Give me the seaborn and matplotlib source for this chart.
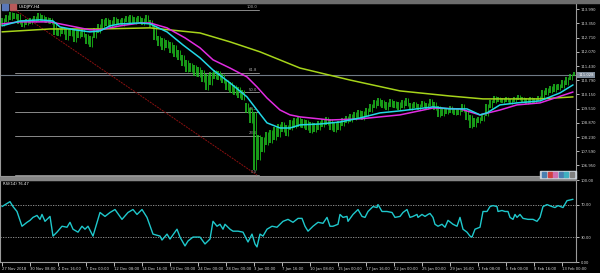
import numpy as np
import pandas as pd
import matplotlib
matplotlib.use("Agg")
import matplotlib.pyplot as plt
import seaborn as sns
from matplotlib.patches import Rectangle

# ---------------- data ----------------
symbol_title = "USDJPY,H4"

# H4 candles, sampled every 2nd bar: high / low prices
candle_high = [113.60, 113.73, 113.87, 113.82, 113.78, 113.51, 113.55, 113.60, 113.69, 113.82,
               113.73, 113.64, 113.60, 113.42, 113.15, 113.19, 113.10, 113.15, 113.06, 113.01,
               113.10, 112.88, 112.79, 113.15, 113.33, 113.55, 113.60, 113.51, 113.64, 113.55,
               113.60, 113.69, 113.73, 113.64, 113.69, 113.60, 113.73, 113.51, 113.24, 112.79,
               112.70, 112.61, 112.52, 112.38, 112.16, 111.93, 111.71, 111.57, 111.48, 111.39,
               111.25, 111.07, 111.16, 111.25, 111.21, 111.07, 110.80, 110.71, 110.58, 110.49,
               110.35, 109.77, 109.54, 109.36, 108.33, 108.23, 108.46, 108.55, 108.69, 108.82,
               108.91, 108.78, 109.00, 109.09, 109.14, 109.05, 109.00, 108.91, 108.87, 108.96,
               109.05, 109.14, 109.05, 108.91, 108.96, 109.09, 109.18, 109.27, 109.36, 109.45,
               109.41, 109.54, 109.72, 109.90, 109.99, 109.90, 109.81, 109.95, 109.86, 109.81,
               109.90, 109.99, 109.77, 109.81, 109.72, 109.86, 109.77, 109.95, 109.81, 109.63,
               109.54, 109.54, 109.63, 109.54, 109.50, 109.72, 109.45, 109.23, 109.09, 109.14,
               109.23, 109.72, 109.90, 110.08, 110.04, 109.99, 110.04, 109.95, 110.04, 110.13,
               110.04, 109.99, 110.04, 109.99, 110.08, 110.35, 110.44, 110.53, 110.62, 110.62,
               110.80, 110.94, 111.07, 111.16]
candle_low = [113.24, 113.42, 113.51, 113.55, 113.33, 113.19, 113.28, 113.33, 113.42, 113.46,
              113.42, 113.37, 113.33, 112.83, 112.79, 112.88, 112.61, 112.79, 112.52, 112.70,
              112.74, 112.43, 112.29, 112.70, 112.92, 113.15, 113.24, 113.19, 113.28, 113.33,
              113.24, 113.42, 113.37, 113.33, 113.42, 113.28, 113.42, 113.19, 112.61, 112.34,
              112.16, 112.25, 112.02, 111.84, 111.71, 111.43, 111.16, 111.16, 110.98, 110.94,
              110.71, 110.35, 110.58, 110.85, 110.80, 110.67, 110.35, 110.22, 110.13, 109.99,
              109.90, 109.32, 108.87, 106.75, 107.20, 107.56, 107.87, 107.96, 108.10, 108.23,
              108.46, 108.28, 108.55, 108.64, 108.69, 108.64, 108.55, 108.42, 108.46, 108.55,
              108.69, 108.78, 108.55, 108.46, 108.55, 108.73, 108.87, 108.91, 109.00, 109.09,
              109.00, 109.18, 109.36, 109.54, 109.63, 109.54, 109.45, 109.59, 109.54, 109.45,
              109.54, 109.63, 109.45, 109.54, 109.45, 109.59, 109.50, 109.63, 109.45, 109.14,
              109.18, 109.27, 109.32, 109.23, 109.23, 109.36, 109.00, 108.64, 108.69, 108.87,
              108.96, 109.18, 109.54, 109.77, 109.81, 109.77, 109.81, 109.72, 109.81, 109.90,
              109.81, 109.72, 109.77, 109.77, 109.86, 109.99, 110.13, 110.22, 110.26, 110.35,
              110.44, 110.58, 110.80, 110.98]

# moving averages (bar index, price)
ma_fast_bar = [0, 9, 19, 25.5, 29, 36.5, 44, 49, 54, 59, 69, 74, 82.5, 90.5, 99, 105.5, 114, 122.5,
               127.5, 132.5, 139, 144, 149, 159, 169, 179, 189, 199, 215.5, 224, 232.5, 239, 242.5,
               249, 257.5, 269, 279, 285.5]
ma_fast = [113.24, 113.46, 113.51, 113.46, 113.19, 113.06, 112.97, 113.01, 113.24, 113.33, 113.37,
           113.33, 112.97, 112.38, 111.80, 111.25, 110.67, 110.04, 109.45, 108.87, 108.64, 108.64,
           108.78, 108.82, 108.91, 109.09, 109.32, 109.41, 109.59, 109.50, 109.50, 109.23, 109.32,
           109.68, 109.77, 109.86, 110.22, 110.58]
ma_mid_bar = [0, 9, 24, 29, 34, 44, 49, 59, 69, 74, 82.5, 91.5, 99, 105.5, 114, 122.5, 127.5, 132.5,
              139, 144, 149, 164, 179, 189, 199, 215.5, 229, 239, 249, 257.5, 269, 285.5]
ma_mid = [113.33, 113.42, 113.42, 113.33, 113.24, 113.06, 113.06, 113.24, 113.37, 113.37, 113.15,
          112.70, 112.25, 111.71, 111.34, 110.94, 110.49, 109.99, 109.45, 109.23, 109.14, 109.00,
          109.05, 109.14, 109.23, 109.54, 109.50, 109.23, 109.45, 109.68, 109.77, 110.26]
ma_slow_bar = [0, 24, 49, 74, 99, 114, 129, 149, 174, 199, 224, 240.5, 269, 285.5]
ma_slow = [112.97, 113.10, 113.10, 113.15, 112.92, 112.52, 112.07, 111.34, 110.80, 110.31, 110.08,
           109.95, 109.95, 110.04]

# Fibonacci retracement anchors (bar, price)
fib_start_bar, fib_high = 6.5, 113.96
fib_end_bar, fib_low = 127.5, 106.52
fib_levels = [1.0, 0.618, 0.5, 0.382, 0.236, 0.0]
fib_labels = ["100.0", "61.8", "50.0", "38.2", "23.6", "0.0"]

bid_price = 111.028
price_ticks = [113.990, 113.350, 112.710, 112.070, 111.430, 110.790, 110.150, 109.510,
               108.870, 108.230, 107.590, 106.950]

# RSI(14)
rsi_bar = [0, 4, 5.5, 7.5, 10, 12.5, 14, 15.5, 17.5, 19, 20, 21.5, 24, 25.5, 27.5, 30, 32.5, 34,
           35.5, 38, 40, 41.5, 43, 45.5, 49, 51.5, 54, 56.5, 60, 63, 65.5, 67.5, 70, 72.5, 75.5, 79,
           80, 82.5, 84, 87.5, 89, 91.5, 93, 95.5, 98, 99, 101.5, 104, 105.5, 107.5, 109, 110.5,
           111.5, 114, 115.5, 118, 120.5, 123, 125, 126.5, 127.5, 129, 130.5, 132.5, 135, 137.5,
           139, 140.5, 143, 145.5, 148, 150, 151.5, 153, 155.5, 158, 160.5, 162.5, 164, 165.5, 168,
           169, 170.5, 172.5, 173, 175.5, 178, 180, 181.5, 183, 185.5, 187.5, 188, 190, 192.5, 195,
           196.5, 199, 200.5, 202.5, 204, 205.5, 207.5, 208, 210, 211.5, 213, 214, 215.5, 216.5,
           218, 220, 221.5, 223, 225.5, 227.5, 229, 230.5, 232.5, 234, 235, 236.5, 239, 240.5,
           242.5, 244, 245.5, 247.5, 248, 250, 251.5, 253, 254, 255.5, 256.5, 257.5, 259, 260.5,
           263, 265.5, 267.5, 269, 270.5, 272.5, 275, 276.5, 278, 280.5, 282.5, 285.5]
rsi_val = [67.6, 73.6, 67.6, 61.6, 43.6, 48.4, 50.8, 54.4, 56.8, 52.0, 58.0, 49.6, 55.6, 31.6, 36.4,
           43.6, 42.4, 48.4, 40.0, 36.4, 43.6, 40.0, 43.6, 31.6, 60.4, 55.6, 60.4, 64.0, 52.0, 60.4,
           64.0, 58.0, 64.0, 54.4, 34.0, 31.6, 26.8, 34.0, 28.0, 40.0, 30.4, 19.6, 25.6, 30.4, 30.4,
           30.4, 22.0, 28.0, 49.6, 43.6, 46.0, 40.0, 46.0, 40.0, 37.6, 37.6, 36.4, 24.4, 34.0, 22.0,
           18.4, 34.0, 31.6, 40.0, 43.6, 42.4, 46.0, 49.6, 52.0, 48.4, 53.2, 53.2, 43.6, 37.6, 43.6,
           48.4, 47.2, 54.4, 43.6, 43.6, 46.0, 58.0, 54.4, 55.6, 49.6, 58.0, 64.0, 55.6, 54.4, 61.6,
           67.6, 66.4, 70.0, 61.6, 61.6, 60.4, 54.4, 55.6, 60.4, 64.0, 54.4, 55.6, 58.0, 54.4, 58.0,
           55.6, 58.0, 59.2, 54.4, 46.0, 43.6, 46.0, 42.4, 50.8, 46.0, 43.6, 54.4, 40.0, 36.4, 31.6,
           30.4, 40.0, 42.4, 61.6, 61.6, 67.6, 68.8, 67.6, 61.6, 62.8, 61.6, 61.6, 54.4, 52.0, 58.0,
           54.4, 58.0, 53.2, 52.0, 52.0, 49.6, 54.4, 67.6, 70.0, 67.6, 66.4, 68.8, 66.4, 74.8, 76.47]
rsi_levels = [70, 30]
rsi_ticks = [100, 70, 30, 0]
rsi_title = "RSI(14) 76.47"

time_tick_bars = [0, 14, 28, 42, 56, 70, 84, 98, 112, 126, 140, 154, 168, 182, 196, 210, 224, 238,
                  252, 266, 280]
time_labels = ["27 Nov 2018", "30 Nov 08:00", "4 Dec 16:00", "7 Dec 00:00", "12 Dec 08:00",
               "14 Dec 16:00", "19 Dec 00:00", "24 Dec 00:00", "28 Dec 00:00", "3 Jan 00:00",
               "7 Jan 16:00", "10 Jan 08:00", "15 Jan 00:00", "17 Jan 16:00", "22 Jan 00:00",
               "25 Jan 00:00", "29 Jan 16:00", "1 Feb 08:00", "6 Feb 00:00", "8 Feb 16:00",
               "13 Feb 00:00"]

# ---------------- figure ----------------
sns.set_theme(style="dark")
plt.rcParams['font.family'] = ['DejaVu Sans']

W, H = 600, 273
fig = plt.figure(figsize=(6, 2.73), dpi=100, facecolor="black")


def rect(x0, y0, x1, y1):
    return [x0 / W, 1 - y1 / H, (x1 - x0) / W, (y1 - y0) / H]


ax = fig.add_axes(rect(0, 3, 576, 176))
axr = fig.add_axes(rect(0, 180, 576, 262), sharex=ax)

FS = 2.7
GRID = "#8a8a8a"
for a in (ax, axr):
    a.set_facecolor("black")
    a.grid(False)
    for s in a.spines.values():
        s.set_color("#9a9a9a")
        s.set_linewidth(0.8)
    a.yaxis.tick_right()
    a.tick_params(axis="y", colors="#d8d8d8", labelsize=FS, length=2.5, width=0.6,
                  direction="out", pad=1, right=True, left=False)

ax.set_xlim(-1, 287)
ax.set_ylim(106.477, 114.27)
axr.set_ylim(0, 100)

# candles
cbars = np.arange(0, 2 * len(candle_high), 2)
ax.vlines(cbars, candle_low, candle_high, color="#22c822", lw=1.1, zorder=3)
ax.vlines(cbars + 1.0, candle_low, candle_high, color="#13a313", lw=0.7, zorder=3)

# Fibonacci
rng = fib_high - fib_low
for lev, lab in zip(fib_levels, fib_labels):
    p = fib_low + lev * rng
    ax.plot([fib_start_bar, fib_end_bar + 1], [p, p], color=GRID, lw=0.7, zorder=2)
    ax.text(fib_end_bar, p + 0.04, lab, color="#b0b0b0", fontsize=FS, ha="right", va="bottom",
            zorder=2)
ax.plot([fib_start_bar, fib_end_bar], [fib_high, fib_low], color="#8b1010", lw=0.7,
        ls=(0, (2, 1)), zorder=2)

# bid line
ax.axhline(bid_price, color="#6f7a86", lw=0.8, zorder=1)

# moving averages
sns.lineplot(x=ma_slow_bar, y=ma_slow, ax=ax, color="#a6d41a", lw=1.1, zorder=4)
sns.lineplot(x=ma_mid_bar, y=ma_mid, ax=ax, color="#e22ce2", lw=1.1, zorder=4)
sns.lineplot(x=ma_fast_bar, y=ma_fast, ax=ax, color="#22d8e6", lw=1.1, zorder=5)

ax.set_yticks(price_ticks)
ax.set_yticklabels([f"{v:.3f}" for v in price_ticks])
ax.tick_params(axis="x", bottom=False, labelbottom=False)
ax.set_xlabel("")
ax.set_ylabel("")
ax.text(1.004, bid_price, f"{bid_price:.3f}", transform=ax.get_yaxis_transform(),
        fontsize=FS, color="white", ha="left", va="center",
        bbox=dict(boxstyle="square,pad=0.25", fc="#7f8c9a", ec="none"), zorder=6, clip_on=False)

# RSI
for lv in rsi_levels:
    axr.axhline(lv, color="#a0a0a0", lw=0.6, ls=(0, (1.5, 1.5)))
sns.lineplot(x=rsi_bar, y=rsi_val, ax=axr, color="#1fc8cc", lw=1.0)
axr.set_yticks(rsi_ticks)
axr.set_yticklabels([f"{v:.2f}" for v in rsi_ticks])
axr.set_xticks(time_tick_bars)
axr.set_xticklabels(time_labels)
axr.tick_params(axis="x", colors="#d8d8d8", labelsize=FS, length=3, width=0.6,
                direction="out", pad=0.5, bottom=True)
for lab in axr.get_xticklabels():
    lab.set_ha("left")
axr.set_xlabel("")
axr.set_ylabel("")
axr.text(0.005, 0.97, rsi_title, transform=axr.transAxes, fontsize=FS, color="white",
         ha="left", va="top")

# window chrome
fig.add_artist(Rectangle((0, 1 - 3 / H), 1, 3 / H, transform=fig.transFigure,
                         color="#6d6d6d", zorder=10))
fig.add_artist(Rectangle((0, 1 - 180 / H), 576 / W, 3.5 / H, transform=fig.transFigure,
                         color="#858585", zorder=10))
fig.add_artist(Rectangle((2 / W, 1 - 10 / H), 6 / W, 6 / H, transform=fig.transFigure,
                         color="#5a78b8", zorder=11))
fig.add_artist(Rectangle((10 / W, 1 - 10 / H), 6 / W, 6 / H, transform=fig.transFigure,
                         color="#b85a5a", zorder=11))
fig.text(19 / W, 1 - 7.3 / H, symbol_title, fontsize=3.0, color="white", ha="left",
         va="center", zorder=11)
# one-click trading icons box
fig.add_artist(Rectangle((540 / W, 1 - 178 / H), 36 / W, 7 / H, transform=fig.transFigure,
                         color="#c9d0d8", zorder=11))
for k, c in enumerate(["#4a7fb0", "#d04040", "#d070b0", "#4a7fb0", "#40b0c0", "#808080"]):
    fig.add_artist(Rectangle(((542 + 5.5 * k) / W, 1 - 177 / H), 4 / W, 5 / H,
                             transform=fig.transFigure, color=c, zorder=12))

fig.savefig("out.png", dpi=100, facecolor="black")
